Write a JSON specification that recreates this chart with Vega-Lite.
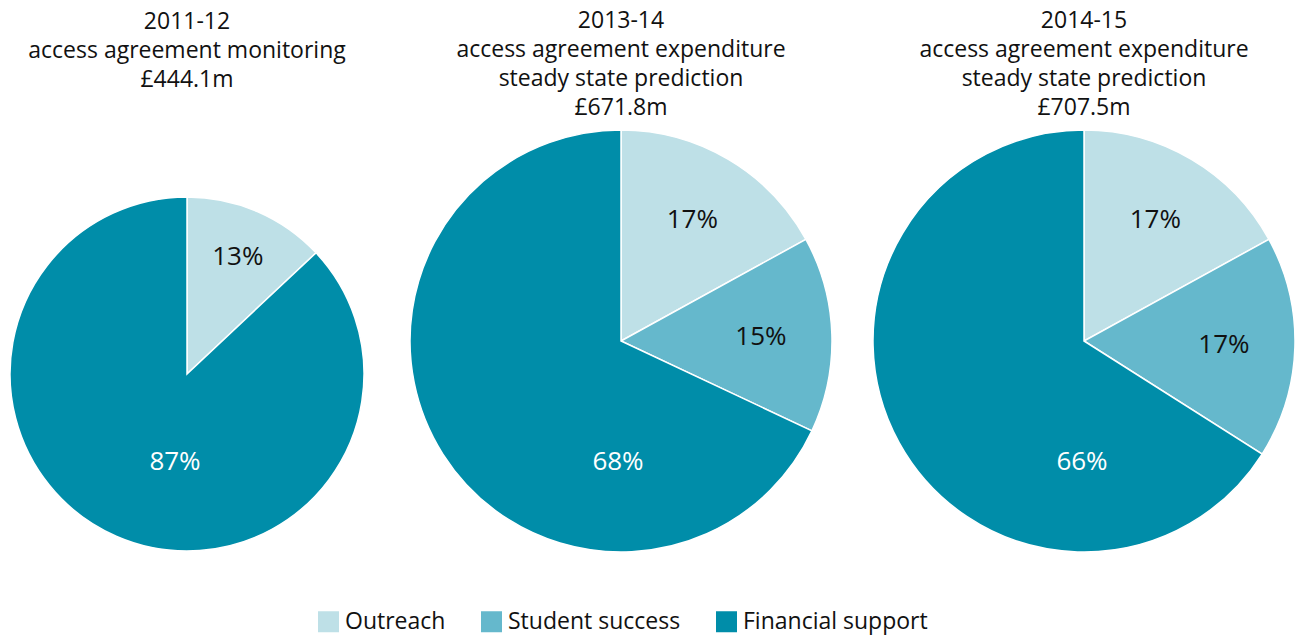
{
  "$schema": "https://vega.github.io/schema/vega-lite/v6.json",
  "background": "white",
  "padding": {"left": 5, "right": 0, "top": 10, "bottom": 3},
  "bounds": "flush",
  "spacing": 41,
  "data": {"values": [
    {"year": "2011-12", "category": "Outreach", "rank": 1, "share": 0.13},
    {"year": "2011-12", "category": "Financial support", "rank": 3, "share": 0.87},
    {"year": "2013-14", "category": "Outreach", "rank": 1, "share": 0.17},
    {"year": "2013-14", "category": "Student success", "rank": 2, "share": 0.15},
    {"year": "2013-14", "category": "Financial support", "rank": 3, "share": 0.68},
    {"year": "2014-15", "category": "Outreach", "rank": 1, "share": 0.17},
    {"year": "2014-15", "category": "Student success", "rank": 2, "share": 0.17},
    {"year": "2014-15", "category": "Financial support", "rank": 3, "share": 0.66}
  ]},
  "config": {
    "font": "Open Sans",
    "view": {"stroke": null},
    "title": {"fontSize": 23, "fontWeight": "normal", "lineHeight": 29, "color": "#111111", "anchor": "middle", "font": "Open Sans"},
    "legend": {"orient": "none", "legendX": 312, "legendY": 480, "direction": "horizontal", "title": null, "symbolType": "square", "symbolSize": 441, "symbolStrokeWidth": 0, "symbolOpacity": 1, "labelFontSize": 23, "labelColor": "#111111", "labelOffset": 5, "labelLimit": 400, "columnPadding": 34, "padding": 0, "labelFont": "Open Sans"}
  },
  "resolve": {"scale": {"theta": "independent"}},
  "hconcat": [
    {
      "width": 364, "height": 488,
      "title": {"text": ["2011-12", "access agreement monitoring", "£444.1m"], "offset": 38},
      "transform": [{"filter": "datum.year === '2011-12'"}],
      "encoding": {
        "theta": {"field": "share", "type": "quantitative", "stack": true, "scale": {"domain": [0, 1]}},
        "order": {"field": "rank", "type": "quantitative"}
      },
      "layer": [
        {
          "mark": {"type": "arc", "radius": 177, "stroke": "white", "strokeWidth": 1.5},
          "encoding": {
            "color": {"field": "category", "type": "nominal", "scale": {"domain": ["Outreach", "Student success", "Financial support"], "range": ["#BEE0E7", "#65B8CC", "#008DA9"]}}
          }
        },
        {
          "transform": [{"filter": "datum.category !== 'Financial support'"}],
          "mark": {"type": "text", "radius": 128, "fontSize": 26, "color": "#111111", "align": "center", "baseline": "middle"},
          "encoding": {"text": {"field": "share", "type": "quantitative", "format": ".0%"}}
        },
        {
          "transform": [{"filter": "datum.category === 'Financial support'"}],
          "mark": {"type": "text", "dx": -12, "dy": 88, "fontSize": 26, "color": "white", "align": "center", "baseline": "middle"},
          "encoding": {"text": {"field": "share", "type": "quantitative", "format": ".0%"}, "theta": null, "order": null}
        }
      ]
    },
    {
      "width": 422, "height": 422,
      "title": {"text": ["2013-14", "access agreement expenditure", "steady state prediction", "£671.8m"], "offset": 7},
      "transform": [{"filter": "datum.year === '2013-14'"}],
      "encoding": {
        "theta": {"field": "share", "type": "quantitative", "stack": true, "scale": {"domain": [0, 1]}},
        "order": {"field": "rank", "type": "quantitative"}
      },
      "layer": [
        {
          "mark": {"type": "arc", "radius": 211, "stroke": "white", "strokeWidth": 1.5},
          "encoding": {
            "color": {"field": "category", "type": "nominal", "scale": {"domain": ["Outreach", "Student success", "Financial support"], "range": ["#BEE0E7", "#65B8CC", "#008DA9"]}}
          }
        },
        {
          "transform": [{"filter": "datum.category !== 'Financial support'"}],
          "mark": {"type": "text", "radius": 140, "fontSize": 26, "color": "#111111", "align": "center", "baseline": "middle"},
          "encoding": {"text": {"field": "share", "type": "quantitative", "format": ".0%"}}
        },
        {
          "transform": [{"filter": "datum.category === 'Financial support'"}],
          "mark": {"type": "text", "dx": -3, "dy": 121, "fontSize": 26, "color": "white", "align": "center", "baseline": "middle"},
          "encoding": {"text": {"field": "share", "type": "quantitative", "format": ".0%"}, "theta": null, "order": null}
        }
      ]
    },
    {
      "width": 422, "height": 422,
      "title": {"text": ["2014-15", "access agreement expenditure", "steady state prediction", "£707.5m"], "offset": 7},
      "transform": [{"filter": "datum.year === '2014-15'"}],
      "encoding": {
        "theta": {"field": "share", "type": "quantitative", "stack": true, "scale": {"domain": [0, 1]}},
        "order": {"field": "rank", "type": "quantitative"}
      },
      "layer": [
        {
          "mark": {"type": "arc", "radius": 211, "stroke": "white", "strokeWidth": 1.5},
          "encoding": {
            "color": {"field": "category", "type": "nominal", "scale": {"domain": ["Outreach", "Student success", "Financial support"], "range": ["#BEE0E7", "#65B8CC", "#008DA9"]}}
          }
        },
        {
          "transform": [{"filter": "datum.category !== 'Financial support'"}],
          "mark": {"type": "text", "radius": 140, "fontSize": 26, "color": "#111111", "align": "center", "baseline": "middle"},
          "encoding": {"text": {"field": "share", "type": "quantitative", "format": ".0%"}}
        },
        {
          "transform": [{"filter": "datum.category === 'Financial support'"}],
          "mark": {"type": "text", "dx": -2, "dy": 121, "fontSize": 26, "color": "white", "align": "center", "baseline": "middle"},
          "encoding": {"text": {"field": "share", "type": "quantitative", "format": ".0%"}, "theta": null, "order": null}
        }
      ]
    }
  ]
}
